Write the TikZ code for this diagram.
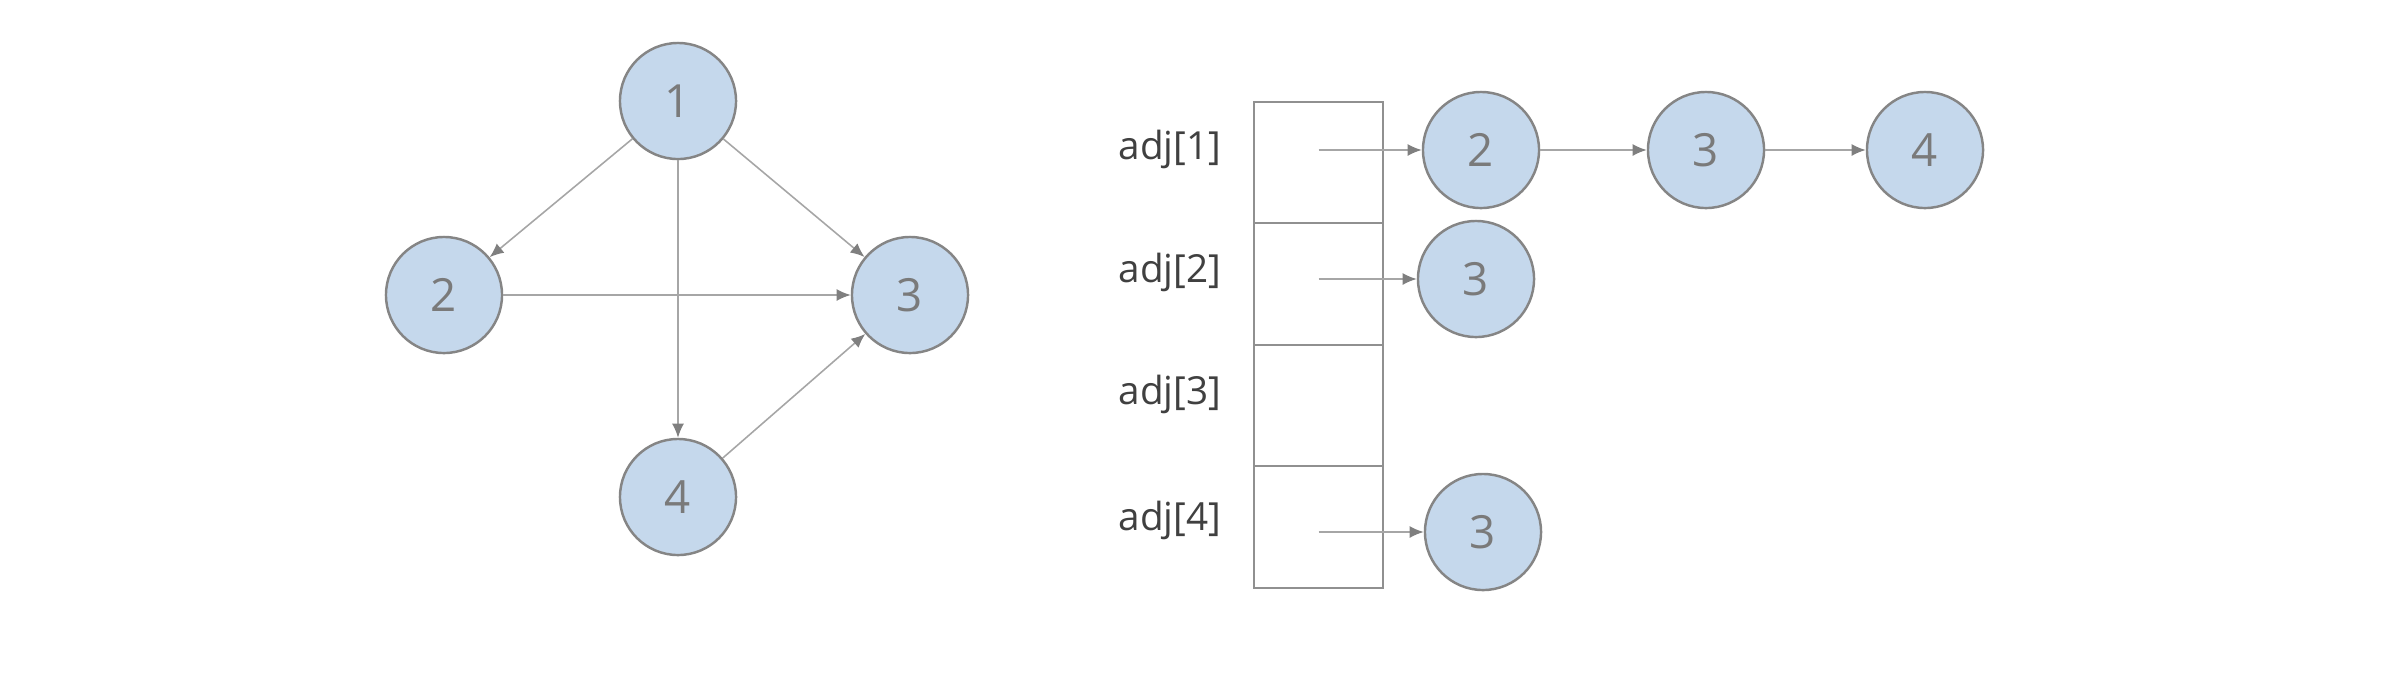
\documentclass[tikz,border=0pt]{standalone}
\usepackage{fontspec}
\setmainfont{Open Sans}
\usetikzlibrary{arrows.meta}
\definecolor{nodefill}{HTML}{C5D8EC}
\definecolor{nodeline}{HTML}{858585}
\definecolor{edgecol}{HTML}{A6A6A6}
\definecolor{tipcol}{HTML}{7F7F7F}
\definecolor{digitcol}{HTML}{7A7A7A}
\definecolor{labelcol}{HTML}{404040}
\definecolor{boxline}{HTML}{909090}
\tikzset{
  vnode/.style={circle, draw=nodeline, fill=nodefill, line width=0.7pt,
    minimum size=1.16cm, inner sep=0pt, text=digitcol,
    font=\fontsize{13}{15}\selectfont},
  arr/.style={draw=edgecol, line width=0.45pt,
    -{Latex[length=4pt,width=3.4pt,color=tipcol]}},
  cellbox/.style={rectangle, draw=boxline, line width=0.6pt,
    minimum width=1.29cm, minimum height=1.215cm, inner sep=0pt},
  adjlabel/.style={anchor=base east, inner sep=0pt, text=labelcol,
    font=\fontsize{11}{13}\selectfont}
}
\begin{document}
\begin{tikzpicture}[x=0.01cm, y=-0.01cm]
\useasboundingbox (0,0) rectangle (2390,690);
% left graph
\node[vnode] (g1) at (678,101) {1};
\node[vnode] (g2) at (444,295) {2};
\node[vnode] (g3) at (910,295) {3};
\node[vnode] (g4) at (678,497) {4};
\draw[arr] (g1) -- (g2);
\draw[arr] (g1) -- (g3);
\draw[arr] (g1) -- (g4);
\draw[arr] (g2) -- (g3);
\draw[arr] (g4) -- (g3);
% adjacency array
\node[cellbox] (c1) at (1318.5,162.5) {};
\node[cellbox] (c2) at (1318.5,284) {};
\node[cellbox] (c3) at (1318.5,405.5) {};
\node[cellbox] (c4) at (1318.5,527) {};
\node[adjlabel] (a1) at (1222,159) {adj[1]};
\node[adjlabel] (a2) at (1222,282) {adj[2]};
\node[adjlabel] (a3) at (1222,404) {adj[3]};
\node[adjlabel] (a4) at (1222,530) {adj[4]};
% lists
\node[vnode] (l12) at (1481,150) {2};
\node[vnode] (l13) at (1706,150) {3};
\node[vnode] (l14) at (1925,150) {4};
\node[vnode] (l23) at (1476,279) {3};
\node[vnode] (l43) at (1483,532) {3};
\draw[arr] (c1.center |- l12) -- (l12);
\draw[arr] (l12) -- (l13);
\draw[arr] (l13) -- (l14);
\draw[arr] (c2.center |- l23) -- (l23);
\draw[arr] (c4.center |- l43) -- (l43);
\end{tikzpicture}
\end{document}
